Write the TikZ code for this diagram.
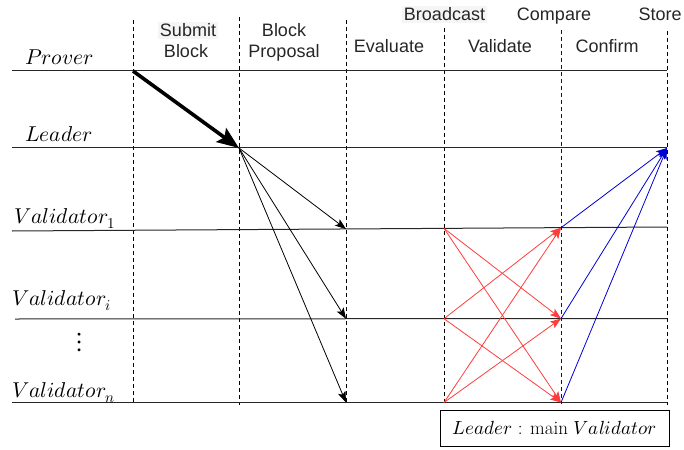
\documentclass[tikz,border=0pt]{standalone}
\usepackage{fontspec}
\usepackage{unicode-math}
\setmathfont{Latin Modern Math}
\newfontfamily\hdrfont{Liberation Sans}
\usetikzlibrary{arrows.meta}

\tikzset{
  lifeline/.style={line width=1pt, black!85},
  phase/.style={line width=0.8pt, dash pattern=on 4pt off 3pt},
  hdr/.style={font=\hdrfont\fontsize{18}{21}\selectfont, text=black!85, inner sep=1pt, anchor=base},
  role/.style={font=\fontsize{21.5}{25}\selectfont, inner sep=0pt, anchor=base west},
  msg/.style={line width=0.8pt, -{Stealth[length=11pt,width=8pt,inset=2.5pt]}},
  submit/.style={line width=3.6pt, -{Stealth[length=22pt,width=17pt,inset=4pt]}},
  bcast/.style={msg, draw={rgb,255:red,255;green,60;blue,60}},
  confirm/.style={msg, draw={rgb,255:red,0;green,0;blue,210}},
}

\begin{document}
\begin{tikzpicture}[x=1pt,y=-1pt]
\useasboundingbox (0,0) rectangle (684,449);

% phase boundaries
\draw[phase] (133,20) -- (133,403);
\draw[phase] (239,17) -- (239,405);
\draw[phase] (346,20) -- (346,404);
\draw[phase] (444,28) -- (444,404);
\draw[phase, draw={rgb,255:red,0;green,0;blue,210}] (561,30) -- (561,404);
\draw[phase] (667,31) -- (667,405);

% lifelines
\draw[lifeline] (12,71) -- (667,71);
\draw[lifeline] (12,148) -- (667,148);
\draw[lifeline] (12,231) -- (667,227);
\draw[lifeline] (15,319) -- (667,318.5);
\draw[lifeline] (12,402.5) -- (667,402.5);

% role labels
\node[role] (prover) at (25,65) {$Prover$};
\node[role] (leader) at (25,142) {$Leader$};
\node[role] (val1) at (14,223.5) {$Validator_1$};
\node[role] (vali) at (12,305) {$Validator_i$};
\node[role, anchor=center, font=\fontsize{28}{30}\selectfont] (vdots) at (80,342) {$\vdots$};
\node[role] (valn) at (12,397) {$Validator_n$};

% phase headers
\node[hdr, fill=black!4, inner sep=2pt] (submit1) at (188,37) {Submit};
\node[hdr] (submit2) at (186,58) {Block};
\node[hdr] (prop1) at (284,37) {Block};
\node[hdr] (prop2) at (284,58) {Proposal};
\node[hdr] (eval) at (389,53) {Evaluate};
\node[hdr, fill=black!4, inner sep=2pt] (bc) at (444.5,21) {Broadcast};
\node[hdr] (valid) at (500,53) {Validate};
\node[hdr] (cmp) at (554,21) {Compare};
\node[hdr] (conf) at (607,53) {Confirm};
\node[hdr] (store) at (660,21) {Store};

% message endpoints
\coordinate (p1) at (133,71);
\coordinate (l2) at (239,148);
\coordinate (l6) at (667,148);
\coordinate (a3) at (346,229);
\coordinate (a4) at (444,228.4);
\coordinate (a5) at (561,227.7);
\coordinate (b3) at (346,318.8);
\coordinate (b4) at (444,318.7);
\coordinate (b5) at (561,318.6);
\coordinate (c3) at (346,402.5);
\coordinate (c4) at (444,402.5);
\coordinate (c5) at (561,402.5);

% submit block
\draw[submit] (p1) -- (l2);
% block proposal
\draw[msg] (l2) -- (a3);
\draw[msg] (l2) -- (b3);
\draw[msg] (l2) -- (c3);
% broadcast among validators
\draw[bcast] (a4) -- (b5);
\draw[bcast] (a4) -- (c5);
\draw[bcast] (b4) -- (a5);
\draw[bcast] (b4) -- (c5);
\draw[bcast] (c4) -- (a5);
\draw[bcast] (c4) -- (b5);
% confirm to leader
\draw[confirm] (a5) -- (l6);
\draw[confirm] (b5) -- (l6);
\draw[confirm] (c5) -- (l6);

% legend
\node[draw, line width=0.9pt, minimum width=229pt, minimum height=36pt, inner sep=0pt,
      font=\fontsize{19}{22}\selectfont] (legend) at (554.5,428) {$Leader$ : main $Validator$};
\end{tikzpicture}
\end{document}
